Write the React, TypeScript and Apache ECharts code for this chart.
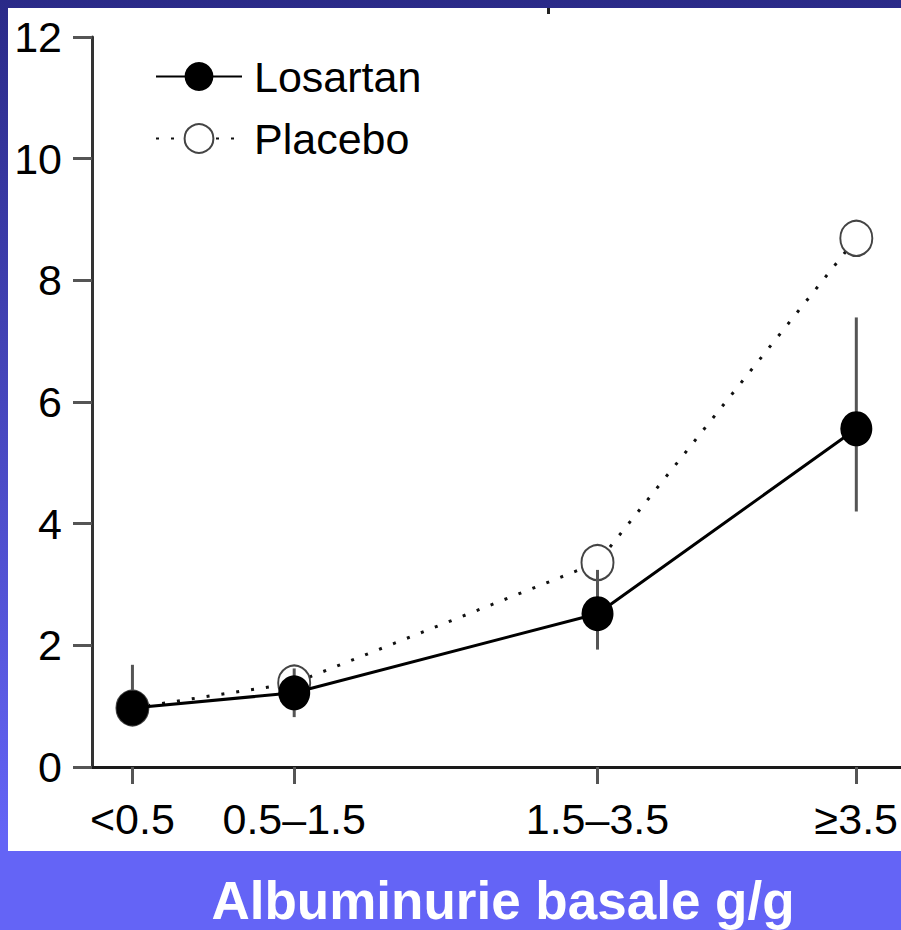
import React, { useEffect, useRef } from "react";
import * as echarts from "echarts";

// Category labels along the x axis and their (unequal) positions on the axis
const categories = ["<0.5", "0.5–1.5", "1.5–3.5", "≥3.5"];
const xPositions = [0.5, 2.5, 6.25, 9.45];

// Series values
const losartan = [0.97, 1.22, 2.52, 5.56];
const losartanLow = [0.72, 0.82, 1.93, 4.2];
const losartanHigh = [1.68, 1.62, 3.24, 7.39];
const placebo = [0.97, 1.38, 3.36, 8.69];

// Y axis ticks
const yTicks = [0, 2, 4, 6, 8, 10, 12];

const xTitle = "Albuminurie basale g/g";
const FONT = "'Liberation Sans', Arial, Helvetica, sans-serif";

export default function App() {
  const ref = useRef<HTMLDivElement>(null);

  useEffect(() => {
    if (!ref.current) return;
    const chart = echarts.init(ref.current, null, { renderer: "svg" });

    const labelFor = (v: number) => {
      let best = 0;
      let d = Infinity;
      xPositions.forEach((p, i) => {
        if (Math.abs(p - v) < d) {
          d = Math.abs(p - v);
          best = i;
        }
      });
      return categories[best];
    };

    const option: any = {
      animation: false,
      backgroundColor: {
        type: "linear",
        x: 0,
        y: 0,
        x2: 0,
        y2: 1,
        colorStops: [
          { offset: 0, color: "#2a2a88" },
          { offset: 0.9, color: "#6464f6" },
          { offset: 1, color: "#6464f6" },
        ],
      },
      graphic: [
        {
          type: "rect",
          z: -10,
          shape: { x: 8, y: 8, width: 893, height: 843 },
          style: { fill: "#ffffff" },
          silent: true,
        },
        {
          type: "rect",
          z: 10,
          shape: { x: 547, y: 8, width: 3, height: 6 },
          style: { fill: "#222" },
          silent: true,
        },
        {
          type: "text",
          z: 10,
          x: 503,
          y: 900,
          style: {
            text: xTitle,
            fill: "#ffffff",
            font: `bold 53px ${FONT}`,
            align: "center",
            verticalAlign: "middle",
          },
          silent: true,
        },
      ],
      legend: {
        orient: "vertical",
        left: 155,
        top: 55,
        padding: 0,
        itemWidth: 86,
        itemHeight: 36,
        itemGap: 19,
        data: ["Losartan", "Placebo"],
        textStyle: {
          fontFamily: FONT,
          fontSize: 43,
          color: "#000",
          padding: [0, 0, 0, 7],
        },
      },
      grid: { left: 92, top: 37, right: 0, bottom: 930 - 767 },
      xAxis: {
        type: "value",
        min: 0,
        max: 10,
        splitLine: { show: false },
        axisLine: { show: true, lineStyle: { color: "#1a1a1a", width: 3 } },
        axisTick: {
          show: true,
          customValues: xPositions,
          length: 17,
          lineStyle: { color: "#555", width: 3 },
        },
        axisLabel: {
          customValues: xPositions,
          formatter: (v: number) => labelFor(v),
          fontFamily: FONT,
          fontSize: 43,
          color: "#000",
          margin: 30,
        },
      },
      yAxis: {
        type: "value",
        min: 0,
        max: 12,
        interval: 2,
        splitLine: { show: false },
        axisLine: { show: true, lineStyle: { color: "#333", width: 3 } },
        axisTick: {
          show: true,
          length: 19,
          lineStyle: { color: "#555", width: 3 },
        },
        axisLabel: {
          fontFamily: FONT,
          fontSize: 43,
          color: "#000",
          margin: 30,
          formatter: (v: number) => (yTicks.includes(v) ? String(v) : ""),
        },
      },
      series: [
        {
          name: "Placebo",
          type: "line",
          z: 2,
          data: xPositions.map((x, i) => [x, placebo[i]]),
          symbol: "emptyCircle",
          symbolSize: [32, 35],
          itemStyle: { color: "#444", borderColor: "#444", borderWidth: 2.5 },
          lineStyle: { color: "#111", width: 3, type: [3, 12], cap: "butt" },
        },
        {
          type: "custom",
          z: 3,
          silent: true,
          data: xPositions.map((x, i) => [x, losartanLow[i], losartanHigh[i]]),
          encode: { x: 0, y: [1, 2] },
          renderItem: (params: any, api: any) => {
            const lo = api.coord([api.value(0), api.value(1)]);
            const hi = api.coord([api.value(0), api.value(2)]);
            return {
              type: "line",
              shape: { x1: lo[0], y1: lo[1], x2: hi[0], y2: hi[1] },
              style: { stroke: "#555", lineWidth: 3 },
            };
          },
        },
        {
          name: "Losartan",
          type: "line",
          z: 4,
          data: xPositions.map((x, i) => [x, losartan[i]]),
          symbol: "circle",
          symbolSize: [32, 35],
          itemStyle: { color: "#000" },
          lineStyle: { color: "#000", width: 3 },
        },
      ],
    };

    chart.setOption(option);
    return () => chart.dispose();
  }, []);

  return (
    <div
      ref={ref}
      style={{ position: "absolute", left: 0, top: 0, width: 901, height: 930 }}
    />
  );
}
